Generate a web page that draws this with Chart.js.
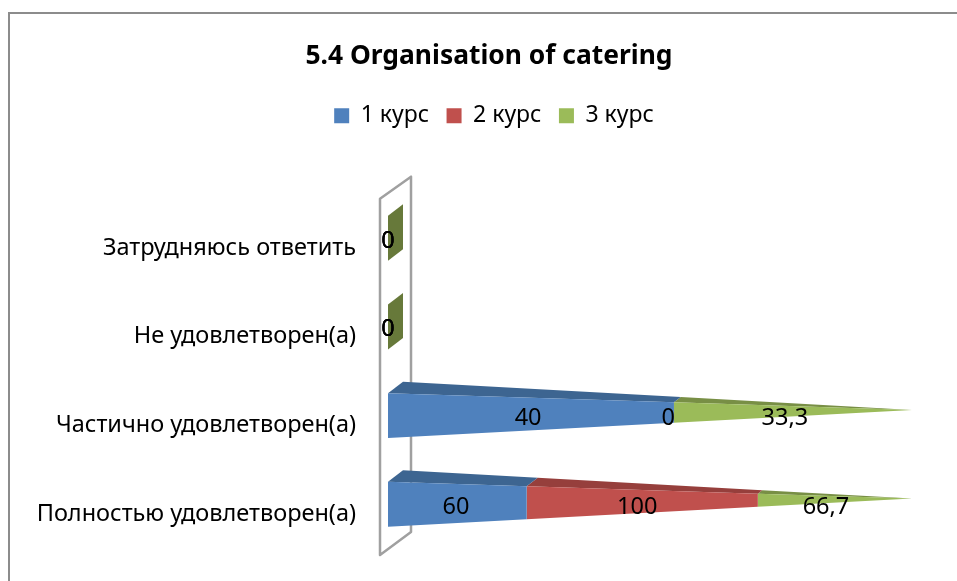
<!DOCTYPE html>
<html>
<head>
<meta charset="utf-8">
<title>5.4 Organisation of catering</title>
<script src="https://cdn.jsdelivr.net/npm/chart.js@4/dist/chart.umd.min.js"></script>
<style>
  html, body { margin: 0; background: #fff; overflow: hidden; }
  #wrap { position: relative; width: 957px; height: 581px; }
  #frame { position: absolute; left: 8px; top: 12px; right: -5px; bottom: -5px; border: 2px solid #8c8c8c; }
  canvas { position: absolute; left: 0; top: 0; }
</style>
</head>
<body>
<div id="wrap">
  <canvas id="chart" width="957" height="581"></canvas>
  <div id="frame"></div>
</div>
<script>
const categories = [
  "Затрудняюсь ответить",
  "Не удовлетворен(а)",
  "Частично удовлетворен(а)",
  "Полностью удовлетворен(а)",
];
const seriesNames = ["1 курс", "2 курс", "3 курс"];
const course1 = [0, 0, 40, 60];
const course2 = [0, 0, 0, 100];
const course3 = [0, 0, 33.3, 66.7];
const COLORS = ["#4f81bd", "#c0504d", "#9bbb59"];
const TOP_COLORS = ["#3d6591", "#963f3c", "#788f45"];
const ZERO_COLOR = "#67793a";
const FONT = "'Noto Sans', sans-serif";
const DEPTH_X = 15;
const DEPTH_Y = 11.5;

const rows = [course1, course2, course3];
const rowTotal = (i) => rows.reduce((sum, r) => sum + r[i], 0);
const rowShare = (upto, i) => {
  let sum = 0;
  for (let k = 0; k < upto; k++) sum += rows[k][i];
  return (sum / rowTotal(i)) * 100;
};

const poly = (ctx, color, pts) => {
  ctx.fillStyle = color;
  ctx.beginPath();
  pts.forEach((p, i) => (i ? ctx.lineTo(p[0], p[1]) : ctx.moveTo(p[0], p[1])));
  ctx.closePath();
  ctx.fill();
};

const shiftBox = (box, dx, dy) => {
  box.left += dx;
  box.right += dx;
  box.top += dy;
  box.bottom += dy;
};

// stacked 100% pyramid, excel style: every row narrows to a tip at the axis end
const pyramid = {
  id: "pyramid",
  afterLayout(chart) {
    // title padding keeps the plot low, title and legend sit off the layout's centre
    shiftBox(chart.titleBlock, 18, 0);
    shiftBox(chart.legend, 23, -51);
  },
  beforeDatasetsDraw(chart) {
    const { ctx, chartArea: a } = chart;
    const l = a.left, r = a.left + DEPTH_X;
    ctx.save();
    ctx.strokeStyle = "#a0a0a0";
    ctx.lineWidth = 2.5;
    ctx.lineJoin = "round";
    ctx.beginPath();
    ctx.moveTo(l - 8, a.top + 10.5);
    ctx.lineTo(r + 8, a.top - 11.5);
    ctx.lineTo(r + 8, a.bottom - 11);
    ctx.lineTo(l - 8, a.bottom + 12);
    ctx.closePath();
    ctx.stroke();
    ctx.restore();
  },
  beforeDatasetDraw(chart, args) {
    const { ctx, scales } = chart;
    const x = scales.x;
    const ds = args.index;
    const x0 = x.getPixelForValue(0);
    args.meta.data.forEach((el, i) => {
      const h = el.height;
      const c = el.y;
      const fTop = c - h / 2 + DEPTH_Y / 2;
      const fBot = c + h / 2 + DEPTH_Y / 2;
      const bTop = c - h / 2 - DEPTH_Y / 2;
      if (rowTotal(i) === 0) {
        if (ds === rows.length - 1) {
          poly(ctx, ZERO_COLOR, [
            [x0, fTop], [x0 + DEPTH_X, bTop],
            [x0 + DEPTH_X, fBot - DEPTH_Y], [x0, fBot],
          ]);
        }
        return;
      }
      if (rows[ds][i] === 0) return;
      const corners = (share) => {
        const t = share / 100;
        const px = x.getPixelForValue(share);
        return {
          ft: [px, fTop + (c - fTop) * t],
          fb: [px, fBot + (c - fBot) * t],
          bt: [px + DEPTH_X * (1 - t), bTop + (c - bTop) * t],
        };
      };
      const s = corners(rowShare(ds, i));
      const e = corners(rowShare(ds + 1, i));
      poly(ctx, TOP_COLORS[ds], [s.ft, s.bt, e.bt, e.ft]);
      poly(ctx, COLORS[ds], [s.ft, e.ft, e.fb, s.fb]);
    });
    return false;
  },
  afterDatasetsDraw(chart) {
    const { ctx, scales } = chart;
    const x = scales.x;
    ctx.save();
    ctx.fillStyle = "#000";
    ctx.font = "23.5px " + FONT;
    ctx.textAlign = "center";
    ctx.textBaseline = "middle";
    chart.data.datasets.forEach((d, ds) => {
      chart.getDatasetMeta(ds).data.forEach((el, i) => {
        const total = rowTotal(i);
        const mid = total ? (rowShare(ds, i) + rowShare(ds + 1, i)) / 2 : 0;
        const text = String(d.data[i]).replace(".", ",");
        ctx.fillText(text, x.getPixelForValue(mid * 0.98), el.y + 8.5);
      });
    });
    ctx.restore();
  },
};

new Chart(document.getElementById("chart"), {
  type: "bar",
  data: {
    labels: categories,
    datasets: seriesNames.map((name, i) => ({
      label: name,
      data: rows[i],
      backgroundColor: COLORS[i],
      categoryPercentage: 1,
      barPercentage: 0.507,
    })),
  },
  options: {
    indexAxis: "y",
    responsive: false,
    animation: false,
    layout: { padding: { left: 30, right: 45, top: 41, bottom: 29 } },
    plugins: {
      tooltip: { enabled: false },
      title: {
        display: true,
        text: "5.4 Organisation of catering",
        color: "#000",
        font: { family: FONT, size: 26.4, weight: "bold" },
        padding: { top: 0, bottom: 65 },
      },
      legend: {
        position: "top",
        labels: {
          color: "#000",
          boxWidth: 15,
          boxHeight: 15,
          padding: 17.5,
          font: { family: FONT, size: 23 },
        },
      },
    },
    scales: {
      x: { display: false, stacked: true, min: 0, max: 100 },
      y: {
        stacked: true,
        grid: { display: false },
        border: { display: false },
        ticks: { color: "#000", padding: 24, labelOffset: 15.5, font: { family: FONT, size: 23.5 } },
        afterFit: (scale) => { scale.width = 358; },
      },
    },
  },
  plugins: [pyramid],
});
</script>
</body>
</html>
